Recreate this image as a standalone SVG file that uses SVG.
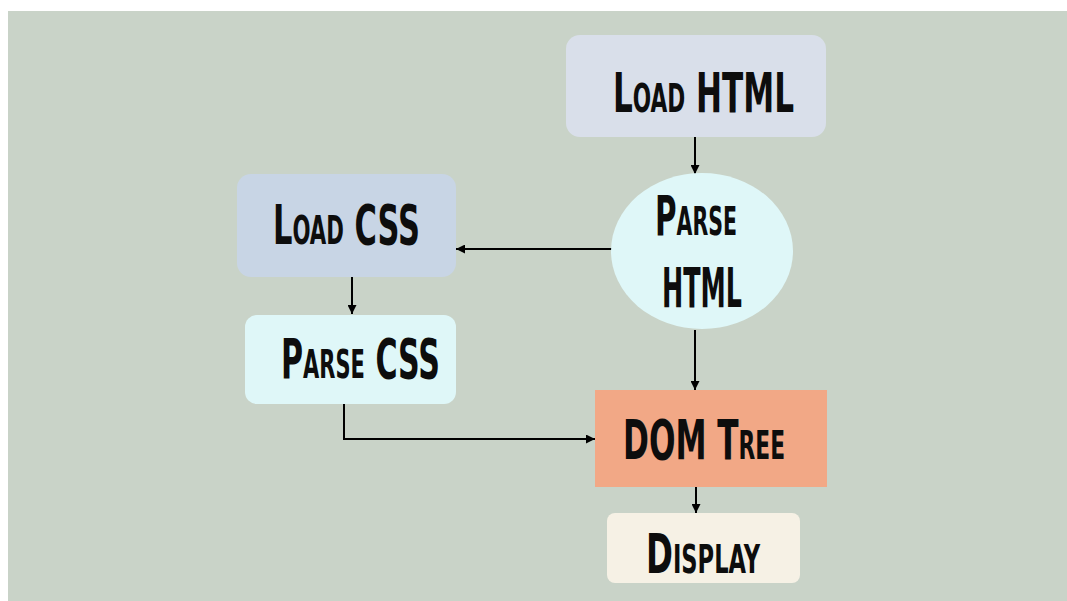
<svg xmlns="http://www.w3.org/2000/svg" width="1067" height="601" viewBox="0 0 1067 601">
<style>
.lbl{font-family:"DejaVu Sans Condensed","DejaVu Sans","Liberation Sans",sans-serif;font-weight:bold;font-variant:small-caps;font-size:56px;fill:#0d0d0d}
.con{fill:none;stroke:#000;stroke-width:2}
</style>
<defs>
<marker id="ah" viewBox="0 0 10 10" refX="10" refY="5" markerWidth="9" markerHeight="9" markerUnits="userSpaceOnUse" orient="auto">
<path d="M0,0 L10,5 L0,10 z" fill="#000"/>
</marker>
</defs>
<rect x="0" y="0" width="1067" height="601" fill="#ffffff"/>
<rect x="8" y="11" width="1059" height="590" fill="#c9d3c8"/>
<g id="connectors">
<path class="con" d="M695,137 L695,174" marker-end="url(#ah)"/>
<path class="con" d="M612,249 L456,249" marker-end="url(#ah)"/>
<path class="con" d="M352,277 L352,314" marker-end="url(#ah)"/>
<path class="con" d="M344,404 L344,439 L595,439" marker-end="url(#ah)"/>
<path class="con" d="M695,330 L695,390" marker-end="url(#ah)"/>
<path class="con" d="M696,487 L696,513" marker-end="url(#ah)"/>
</g>
<g id="load-html">
<rect x="566" y="35" width="260" height="102" rx="14" fill="#d9dfea"/>
<text class="lbl" x="613" y="112" textLength="181" lengthAdjust="spacingAndGlyphs">Load HTML</text>
</g>
<g id="parse-html">
<ellipse cx="702" cy="251" rx="91" ry="78" fill="#dff7f8"/>
<text class="lbl" x="655" y="235" textLength="82" lengthAdjust="spacingAndGlyphs">Parse</text>
<text class="lbl" x="662" y="307" textLength="80" lengthAdjust="spacingAndGlyphs">HTML</text>
</g>
<g id="load-css">
<rect x="237" y="174" width="219" height="103" rx="14" fill="#c8d5e5"/>
<text class="lbl" x="273" y="244" textLength="147" lengthAdjust="spacingAndGlyphs">Load CSS</text>
</g>
<g id="parse-css">
<rect x="245" y="315" width="211" height="89" rx="12" fill="#dff7f8"/>
<text class="lbl" x="281" y="378" textLength="159" lengthAdjust="spacingAndGlyphs">Parse CSS</text>
</g>
<g id="dom-tree">
<rect x="595" y="390" width="232" height="97" fill="#f2a886"/>
<text class="lbl" x="623" y="459" textLength="162" lengthAdjust="spacingAndGlyphs">DOM Tree</text>
</g>
<g id="display">
<rect x="607" y="513" width="193" height="70" rx="8" fill="#f6f1e5"/>
<text class="lbl" x="646" y="573" textLength="114" lengthAdjust="spacingAndGlyphs">Display</text>
</g>
</svg>
